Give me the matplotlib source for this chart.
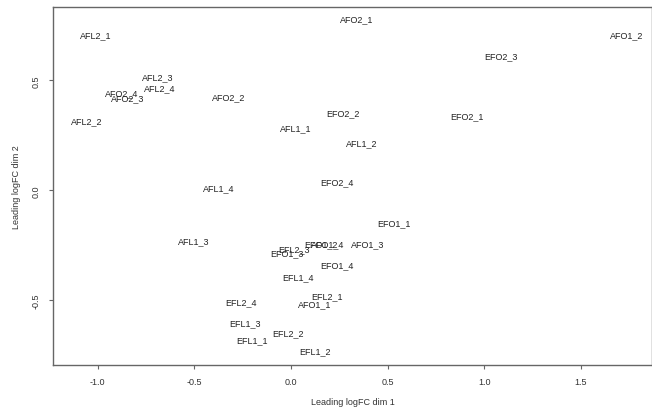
import matplotlib
matplotlib.use("Agg")
import matplotlib.pyplot as plt

# MDS coordinates
labels = ["AFL1_1", "AFL1_2", "AFL1_3", "AFL1_4",
          "AFL2_1", "AFL2_2", "AFL2_3", "AFL2_4",
          "AFO1_1", "AFO1_2", "AFO1_3", "AFO1_4",
          "AFO2_1", "AFO2_2", "AFO2_3", "AFO2_4",
          "EFL1_1", "EFL1_2", "EFL1_3", "EFL1_4",
          "EFL2_1", "EFL2_2", "EFL2_3", "EFL2_4",
          "EFO1_1", "EFO1_2", "EFO1_3", "EFO1_4",
          "EFO2_1", "EFO2_2", "EFO2_3", "EFO2_4"]
dim1 = [0.022, 0.367, -0.505, -0.375,
        -1.009, -1.055, -0.688, -0.677,
        0.121, 1.737, 0.397, 0.190,
        0.338, -0.325, -0.843, -0.874,
        -0.202, 0.126, -0.240, 0.036,
        0.187, -0.018, 0.013, -0.259,
        0.532, 0.153, -0.021, 0.238,
        0.911, 0.269, 1.084, 0.237]
dim2 = [0.283, 0.218, -0.230, 0.012,
        0.706, 0.315, 0.519, 0.469,
        -0.514, 0.706, -0.241, -0.241,
        0.779, 0.428, 0.421, 0.444,
        -0.679, -0.730, -0.600, -0.393,
        -0.479, -0.649, -0.264, -0.506,
        -0.145, -0.241, -0.282, -0.340,
        0.341, 0.351, 0.612, 0.038]

xticks = [-1.0, -0.5, 0.0, 0.5, 1.0, 1.5]
yticks = [-0.5, 0.0, 0.5]

plt.rcParams['font.family'] = ['Liberation Sans', 'DejaVu Sans']

fig = plt.figure(figsize=(6.52, 4.10), dpi=100)
ax = fig.add_axes([0.0818, 0.108, 0.918, 0.872])

for lab, x, y in zip(labels, dim1, dim2):
    ax.text(x, y, lab, ha='center', va='center', fontsize=6.5, color='#222222')

ax.set_xlim(-1.23, 1.867)
ax.set_ylim(-0.793, 0.833)
ax.set_xticks(xticks)
ax.set_xticklabels(["%.1f" % t for t in xticks])
ax.set_yticks(yticks)
ax.set_yticklabels(["%.1f" % t for t in yticks], rotation=90, va='center')

for s in ax.spines.values():
    s.set_color('#666666')
    s.set_linewidth(1.0)
ax.tick_params(direction='out', length=3, width=0.8, color='#666666',
               labelsize=6.5, labelcolor='#333333', pad=6)

ax.set_xlabel("Leading logFC dim 1", fontsize=6.5, color='#333333', labelpad=8)
ax.set_ylabel("Leading logFC dim 2", fontsize=6.5, color='#333333', labelpad=8)

fig.savefig("out.png", dpi=100)
